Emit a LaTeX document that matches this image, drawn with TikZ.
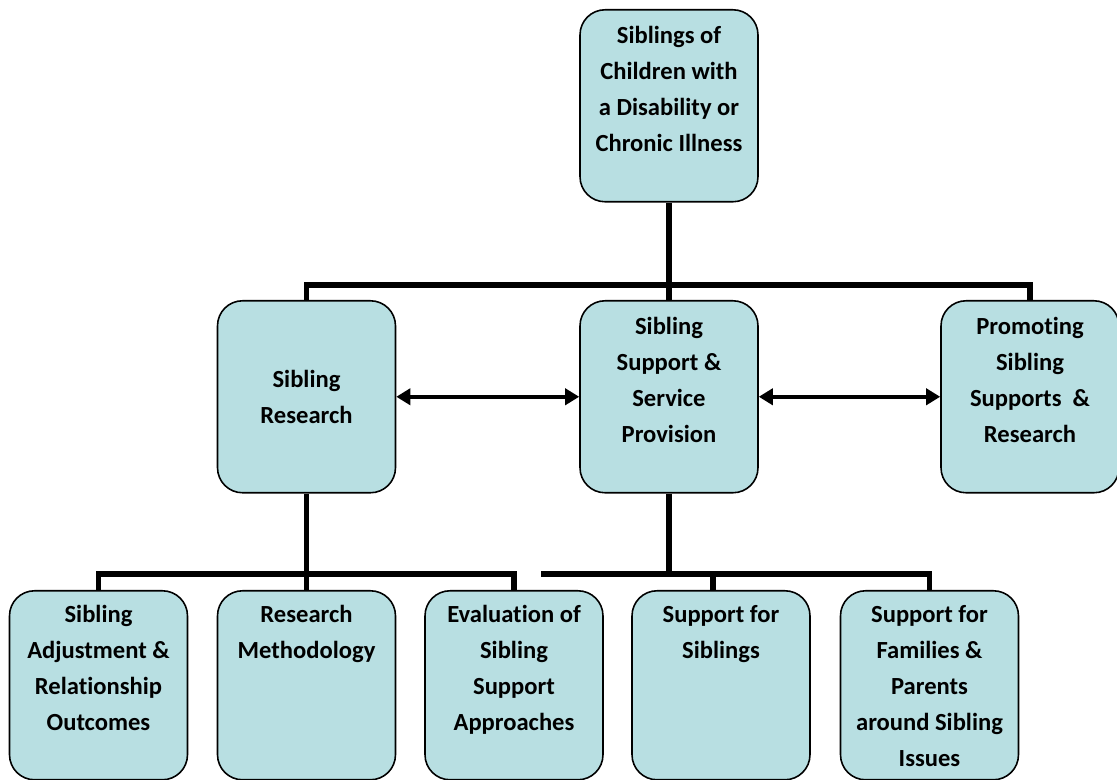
\documentclass[tikz,border=0pt]{standalone}
\usepackage{fontspec}
\setmainfont{Carlito}[Ligatures=NoCommon]
\usepackage{xcolor}
\usetikzlibrary{arrows.meta}

\definecolor{boxfill}{RGB}{184,223,226}
\newcommand{\boxlines}[1]{\parbox[t][3.5cm][t]{3.4cm}{\centering\rule{0pt}{0.5cm}#1}}

\begin{document}
\begin{tikzpicture}[x=0.02cm,y=-0.02cm,
    box/.style={draw,fill=boxfill,line width=0.9pt,rounded corners=0.5cm,inner sep=0pt,
        minimum width=3.56cm,minimum height=3.84cm,anchor=north,
        font=\fontsize{14}{20.5}\selectfont\bfseries},
    lowbox/.style={box,minimum height=3.78cm},
    conn/.style={line width=3.1pt},
    link/.style={{Triangle[length=0.28cm,width=0.32cm]}-{Triangle[length=0.28cm,width=0.32cm]},line width=2.2pt}]
        % \draw[help lines] (0,0) grid (1117,780);
        \useasboundingbox (0,0) rectangle (1117,780);

        \node[box] (top) at (669,9) {\boxlines{Siblings of\\Children with\\a Disability or\\Chronic Illness}};

        \node[box,align=center] (res) at (306.5,300) {Sibling\\Research};
        \node[box] (serv) at (669,300) {\boxlines{Sibling\\Support \&\\Service\\Provision}};
        \node[box] (prom) at (1030,300) {\boxlines{Promoting\\Sibling\\Supports~~\&\\Research}};

        \node[lowbox] (adj) at (98.5,590) {\boxlines{Sibling\\Adjustment \&\\Relationship\\Outcomes}};
        \node[lowbox] (meth) at (306.5,590) {\boxlines{Research\\Methodology}};
        \node[lowbox] (eval) at (514,590) {\boxlines{Evaluation of\\Sibling\\Support\\Approaches}};
        \node[lowbox] (supp) at (721,590) {\boxlines{Support for\\Siblings}};
        \node[lowbox] (fam) at (929.5,590) {\boxlines{Support for\\Families \&\\Parents\\around Sibling\\Issues}};

        \coordinate (topbar) at (0,285);
        \coordinate (lbar) at (0,574);
        \coordinate (rbar) at (541,574);

        \draw[conn] (top) -- (serv);
        \draw[conn] (res.north) -- (res.north |- topbar) -- (prom.north |- topbar) -- (prom.north);

        \draw[conn] (res) -- (meth);
        \draw[conn] (adj.north) -- (adj.north |- lbar) -- (eval.north |- lbar) -- (eval.north);

        \draw[conn] (serv.south) -- (serv.south |- rbar);
        \draw[conn] (rbar) -- (fam.north |- rbar) -- (fam.north);
        \draw[conn] ([xshift=-0.16cm]supp.north) -- ([xshift=-0.16cm]supp.north |- rbar);

        \draw[link] (res) -- (serv);
        \draw[link] (serv) -- (prom);
\end{tikzpicture}
\end{document}
